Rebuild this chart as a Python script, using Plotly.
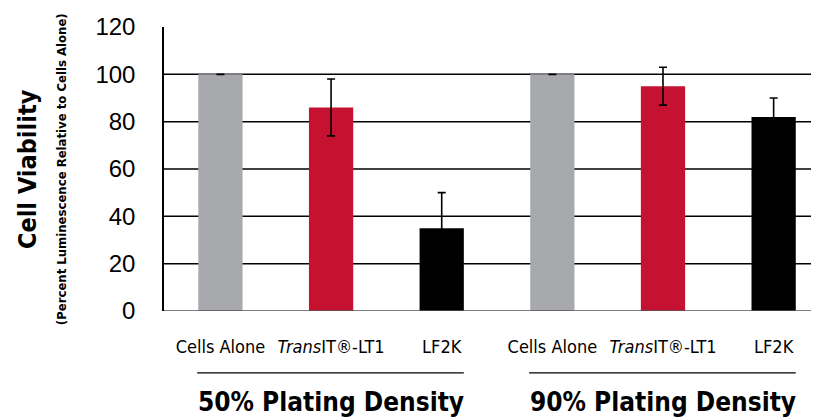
import plotly.graph_objects as go

categories = ["Cells Alone", "<i>Trans</i>IT®-LT1", "LF2K",
              "Cells Alone", "<i>Trans</i>IT®-LT1", "LF2K"]
values = [100, 86, 35, 100, 95, 82]
errors = [None, 12, 15, None, 8, 8]
colors = ["#a7a9ac", "#c41230", "#000000", "#a7a9ac", "#c41230", "#000000"]
groups = ["50% Plating Density", "90% Plating Density"]
y_ticks = [0, 20, 40, 60, 80, 100, 120]
grid_vals = [20, 40, 60, 80, 100]

COND = "DejaVu Sans Condensed"
x = list(range(len(categories)))
fig = go.Figure()
fig.add_trace(go.Bar(
    x=x, y=values, marker=dict(color=colors, line=dict(width=0)),
    width=0.4,
    error_y=dict(type="data", array=errors, visible=True,
                 color="#000000", thickness=1.6, width=4),
))

shapes = []
for g in grid_vals:
    shapes.append(dict(type="line", xref="paper", yref="y", x0=0, x1=1, y0=g, y1=g,
                       line=dict(color="#000000", width=1.5), layer="below"))
shapes.append(dict(type="line", xref="paper", yref="y", x0=0, x1=1, y0=0, y1=0,
                   line=dict(color="#555555", width=1.5)))
for gi in range(2):
    shapes.append(dict(type="line", xref="x", yref="paper",
                       x0=gi * 3 - 0.21, x1=gi * 3 + 2.2, y0=-0.218, y1=-0.218,
                       line=dict(color="#000000", width=1.3)))

annotations = []
for gi, gname in enumerate(groups):
    annotations.append(dict(text="<b>" + gname + "</b>", xref="x", yref="paper",
                            x=gi * 3 + 1, y=-0.262, yanchor="top", showarrow=False,
                            font=dict(family=COND, size=26, color="#000")))
annotations.append(dict(text="<b>Cell Viability</b>", xref="paper", yref="paper",
                        x=-0.209, y=0.5, xanchor="center", yanchor="middle",
                        textangle=-90, showarrow=False,
                        font=dict(family=COND, size=25, color="#000")))
annotations.append(dict(text="<b>(Percent Luminescence Relative to Cells Alone)</b>",
                        xref="paper", yref="paper",
                        x=-0.157, y=0.5, xanchor="center", yanchor="middle",
                        textangle=-90, showarrow=False,
                        font=dict(family=COND, size=13, color="#000")))

fig.update_layout(
    width=811, height=412,
    margin=dict(l=156, r=0, t=19, b=109),
    plot_bgcolor="white", paper_bgcolor="white",
    showlegend=False,
    shapes=shapes, annotations=annotations,
    xaxis=dict(range=[-0.51, 5.41], tickvals=x, ticktext=categories, showgrid=False,
               showline=False, zeroline=False, ticks="",
               ticklabelstandoff=23,
               tickfont=dict(family=COND, size=18, color="#000")),
    yaxis=dict(range=[0, 120], tickvals=y_ticks, showgrid=False, zeroline=False,
               showline=True, linecolor="#000", linewidth=1.5, ticks="",
               ticklabelstandoff=22,
               tickfont=dict(family="Liberation Sans, Arial", size=24, color="#000")),
)
fig.write_html("out.html")
